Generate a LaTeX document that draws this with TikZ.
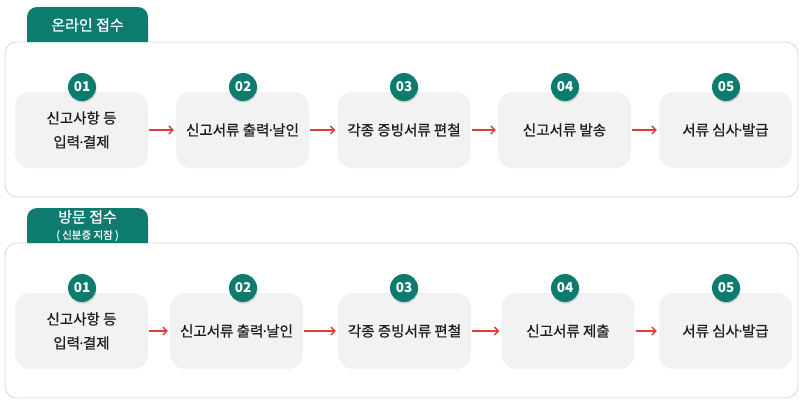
\documentclass[tikz,border=0pt]{standalone}
\usepackage{fontspec}
\newfontfamily\kr{Noto Sans CJK KR}
\newfontfamily\krm[FakeBold=0.7]{Noto Sans CJK KR}
\usetikzlibrary{arrows.meta,shadows}
\definecolor{tealtab}{HTML}{0E7B6F}
\definecolor{boxgray}{HTML}{F2F2F2}
\definecolor{flowred}{HTML}{D9403B}
\definecolor{panelline}{HTML}{DADADA}
\newcommand\mdot{\kern-2.6pt·\kern-2.6pt}

\tikzset{
  stepbox/.style={fill=boxgray, rounded corners=15pt, minimum width=133pt, minimum height=76pt,
    inner sep=0pt, align=center, text=black!88, font=\krm\fontsize{14.5}{24}\selectfont},
  stepnum/.style={circle, fill=tealtab, text=white, minimum size=28pt, inner sep=0pt,
    font=\kr\bfseries\fontsize{13.5}{13.5}\selectfont,
    drop shadow={opacity=0.3, shadow xshift=0.6pt, shadow yshift=-1.6pt}},
  flow/.style={flowred, line width=1.4pt, -{Straight Barb[length=4pt,width=8pt]}, shorten >=2pt, shorten <=1pt},
  panel/.style={fill=white, draw=panelline, line width=0.9pt, rounded corners=12pt},
  tabtext/.style={text=white, font=\krm\fontsize{15}{15}\selectfont}
}

\begin{document}
\begin{tikzpicture}[x=1pt,y=-1pt]
\useasboundingbox (0,0) rectangle (800,400);

% online
\draw[panel] (5,42) rectangle (798,197);
\fill[tealtab] (27,42) [rounded corners=10pt] -- (27,7) -- (148,7) [sharp corners] -- (148,42) -- cycle;
\node[tabtext] (tabon) at (87.5,25) {온라인 접수};

\foreach \i/\x/\nx/\txt in {1/81.5/82/{신고사항 등\\입력\mdot 결제},2/242.5/243/{신고서류 출력\mdot 날인},3/404/404/각종 증빙서류 편철,4/564.5/565/신고서류 발송,5/725.5/726/{서류 심사\mdot 발급}}{
  \node[stepbox] (on\i) at (\x,130) {\txt};
  \node[stepnum] (onn\i) at (\nx,87) {0\i};
}
\foreach \a/\b in {1/2,2/3,3/4,4/5}
  \draw[flow] (on\a.east) -- (on\b.west);

% visit
\draw[panel] (5,243) rectangle (798,398);
\fill[tealtab] (27,243) [rounded corners=10pt] -- (27,208) -- (148,208) [sharp corners] -- (148,243) -- cycle;
\node[tabtext] (tabvis) at (87.5,217) {방문 접수};
\node[text=white, font=\krm\fontsize{10.5}{11}\selectfont] (tabid) at (87.5,235.5) {( 신분증 지참 )};

\foreach \i/\x/\nx/\txt in {1/81.5/82/{신고사항 등\\입력\mdot 결제},2/236.5/243/{신고서류 출력\mdot 날인},3/404.5/404/각종 증빙서류 편철,4/568/565/신고서류 제출,5/725.5/726/{서류 심사\mdot 발급}}{
  \node[stepbox] (vis\i) at (\x,331) {\txt};
  \node[stepnum] (visn\i) at (\nx,288) {0\i};
}
\foreach \a/\b in {1/2,2/3,3/4,4/5}
  \draw[flow] (vis\a.east) -- (vis\b.west);
\end{tikzpicture}
\end{document}
